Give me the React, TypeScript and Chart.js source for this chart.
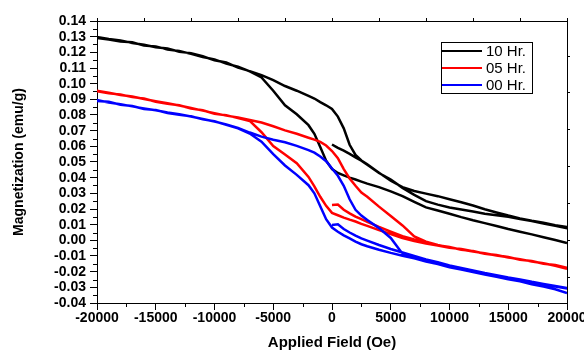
import React, { useEffect, useRef } from "react";
import { Chart, registerables } from "chart.js";

Chart.register(...registerables);

// ---------- data ----------
const SERIES_LABELS = ["10 Hr.", "05 Hr.", "00 Hr."];
const SERIES_COLORS = ["#000000", "#ff0000", "#0000ff"];

// field values (Oe) for the two hysteresis branches
const H_BRANCH = [
  -20000, -19000, -18000, -17000, -16000, -15000, -14000, -13000, -12000, -11000,
  -10000, -9000, -8000, -7000, -6000, -5000, -4000, -3000, -2000, -1500,
  -1000, -500, 0, 500, 1000, 1500, 2000, 2500, 3000, 4000,
  5000, 6000, 7000, 8000, 9000, 10000, 11000, 12000, 13000, 14000,
  15000, 16000, 17000, 18000, 19000, 20000,
];
// field values (Oe) for the initial (virgin) curve
const H_VIRGIN = [
  0, 500, 1000, 1500, 2000, 2500, 3000, 4000, 5000, 6000, 7000, 8000,
  9000, 10000, 11000, 12000, 13000, 14000, 15000, 16000, 17000, 18000, 19000, 20000,
];

// 10 Hr. (emu/g)
const BLACK_UPPER = [
  0.1298, 0.1285, 0.1275, 0.1259, 0.1249, 0.1233, 0.1225, 0.1204, 0.1195, 0.1175,
  0.1149, 0.1135, 0.1102, 0.1080, 0.1055, 0.1022, 0.0985, 0.0955, 0.0922, 0.0905,
  0.0882, 0.0862, 0.0838, 0.0790, 0.0715, 0.0610, 0.0545, 0.0510, 0.0485, 0.0432,
  0.0380, 0.0340, 0.0315, 0.0298, 0.0282, 0.0262, 0.0243, 0.0222, 0.0198, 0.0178,
  0.0158, 0.0140, 0.0125, 0.0112, 0.0097, 0.0085,
];
const BLACK_LOWER = [
  0.1292, 0.1282, 0.1269, 0.1264, 0.1243, 0.1238, 0.1218, 0.1209, 0.1190, 0.1170,
  0.1155, 0.1128, 0.1108, 0.1078, 0.1040, 0.0955, 0.0862, 0.0805, 0.0735, 0.0680,
  0.0595, 0.0508, 0.0455, 0.0430, 0.0415, 0.0400, 0.0388, 0.0375, 0.0362, 0.0340,
  0.0312, 0.0282, 0.0245, 0.0210, 0.0190, 0.0170, 0.0148, 0.0128, 0.0110, 0.0092,
  0.0072, 0.0055, 0.0038, 0.0020, 0.0002, -0.0017,
];
const BLACK_VIRGIN = [
  0.0612, 0.0590, 0.0572, 0.0552, 0.0530, 0.0508, 0.0482, 0.0430, 0.0388, 0.0335,
  0.0290, 0.0250, 0.0228, 0.0210, 0.0197, 0.0184, 0.0170, 0.0160, 0.0150, 0.0136,
  0.0123, 0.0108, 0.0093, 0.0078,
];

// 05 Hr. (emu/g)
const RED_UPPER = [
  0.0955, 0.0942, 0.0928, 0.0918, 0.0902, 0.0888, 0.0875, 0.0860, 0.0845, 0.0828,
  0.0812, 0.0796, 0.0784, 0.0768, 0.0752, 0.0728, 0.0702, 0.0680, 0.0655, 0.0643,
  0.0628, 0.0605, 0.0570, 0.0525, 0.0455, 0.0395, 0.0348, 0.0305, 0.0278, 0.0215,
  0.0155, 0.0095, 0.0025, -0.0008, -0.0030, -0.0045, -0.0058, -0.0072, -0.0083, -0.0097,
  -0.0108, -0.0122, -0.0133, -0.0148, -0.0160, -0.0178,
];
const RED_LOWER = [
  0.0952, 0.0938, 0.0931, 0.0914, 0.0905, 0.0885, 0.0872, 0.0862, 0.0842, 0.0830,
  0.0808, 0.0799, 0.0780, 0.0762, 0.0690, 0.0602, 0.0548, 0.0492, 0.0405, 0.0345,
  0.0278, 0.0220, 0.0175, 0.0160, 0.0145, 0.0132, 0.0120, 0.0105, 0.0092, 0.0065,
  0.0040, 0.0015, -0.0005, -0.0020, -0.0033, -0.0048, -0.0056, -0.0070, -0.0086, -0.0094,
  -0.0110, -0.0120, -0.0135, -0.0146, -0.0162, -0.0181,
];
const RED_VIRGIN = [
  0.0225, 0.0228, 0.0195, 0.0172, 0.0152, 0.0135, 0.0118, 0.0086, 0.0056, 0.0027,
  0.0005, -0.0015, -0.0032, -0.0043, -0.0060, -0.0068, -0.0085, -0.0095, -0.0106, -0.0124,
  -0.0132, -0.0150, -0.0158, -0.0176,
];

// 00 Hr. (emu/g)
const BLUE_UPPER = [
  0.0895, 0.0880, 0.0868, 0.0855, 0.0842, 0.0830, 0.0816, 0.0805, 0.0790, 0.0775,
  0.0758, 0.0740, 0.0718, 0.0688, 0.0662, 0.0642, 0.0626, 0.0603, 0.0576, 0.0560,
  0.0535, 0.0505, 0.0458, 0.0412, 0.0348, 0.0262, 0.0195, 0.0158, 0.0130, 0.0078,
  0.0015, -0.0085, -0.0105, -0.0128, -0.0148, -0.0165, -0.0180, -0.0197, -0.0212, -0.0228,
  -0.0240, -0.0255, -0.0268, -0.0280, -0.0295, -0.0308,
];
const BLUE_LOWER = [
  0.0890, 0.0884, 0.0865, 0.0858, 0.0839, 0.0832, 0.0813, 0.0802, 0.0792, 0.0772,
  0.0760, 0.0737, 0.0715, 0.0682, 0.0630, 0.0550, 0.0478, 0.0418, 0.0352, 0.0300,
  0.0218, 0.0135, 0.0082, 0.0055, 0.0032, 0.0012, -0.0008, -0.0025, -0.0038, -0.0060,
  -0.0080, -0.0098, -0.0115, -0.0135, -0.0152, -0.0172, -0.0186, -0.0203, -0.0218, -0.0233,
  -0.0248, -0.0262, -0.0280, -0.0295, -0.0312, -0.0336,
];
const BLUE_VIRGIN = [
  0.0098, 0.0102, 0.0072, 0.0050, 0.0030, 0.0012, -0.0002, -0.0030, -0.0055, -0.0078,
  -0.0100, -0.0122, -0.0140, -0.0160, -0.0176, -0.0192, -0.0208, -0.0222, -0.0237, -0.0250,
  -0.0265, -0.0278, -0.0292, -0.0305,
];

const X_MIN = -20000;
const X_MAX = 20000;
const X_STEP = 5000;
const X_TOP_STEP = 4000;
const Y_MIN = -0.04;
const Y_MAX = 0.14;
const Y_STEP = 0.01;

const X_TITLE = "Applied Field (Oe)";
const Y_TITLE = "Magnetization (emu/g)";

// ---------- helpers ----------
function buildLoop(virgin: number[], upper: number[], lower: number[]) {
  const pts: { x: number; y: number }[] = [];
  H_VIRGIN.forEach((h, i) => pts.push({ x: h, y: virgin[i] }));
  for (let i = H_BRANCH.length - 1; i >= 0; i--) pts.push({ x: H_BRANCH[i], y: upper[i] });
  H_BRANCH.forEach((h, i) => pts.push({ x: h, y: lower[i] }));
  return pts;
}

const FONT = "'Liberation Sans', Arial, Helvetica, sans-serif";

const minorTicks = {
  id: "minorTicks",
  afterDraw(chart: any) {
    const ctx = chart.ctx;
    const xs = chart.scales.x;
    const ys = chart.scales.y;
    ctx.save();
    ctx.strokeStyle = "#000";
    ctx.lineWidth = 1;
    const xt = xs.ticks.map((t: any) => t.value);
    for (let i = 0; i < xt.length - 1; i++) {
      const px = Math.round(xs.getPixelForValue((xt[i] + xt[i + 1]) / 2)) + 0.5;
      ctx.beginPath();
      ctx.moveTo(px, xs.top);
      ctx.lineTo(px, xs.top + 4);
      ctx.stroke();
    }
    const yt = ys.ticks.map((t: any) => t.value);
    for (let i = 0; i < yt.length - 1; i++) {
      const py = Math.round(ys.getPixelForValue((yt[i] + yt[i + 1]) / 2)) + 0.5;
      ctx.beginPath();
      ctx.moveTo(ys.right - 4, py);
      ctx.lineTo(ys.right, py);
      ctx.stroke();
    }
    ctx.restore();
  },
};

const boxLegend = {
  id: "boxLegend",
  afterDraw(chart: any) {
    const ctx = chart.ctx;
    const area = chart.chartArea;
    const left = area.right - 126;
    const top = area.top + 21;
    const w = 91;
    const rowH = 17;
    const h = rowH * chart.data.datasets.length;
    ctx.save();
    ctx.fillStyle = "#fff";
    ctx.fillRect(left, top, w, h);
    ctx.strokeStyle = "#000";
    ctx.lineWidth = 1;
    ctx.strokeRect(left + 0.5, top + 0.5, w, h);
    ctx.font = `15px ${FONT}`;
    ctx.textBaseline = "middle";
    ctx.textAlign = "left";
    chart.data.datasets.forEach((ds: any, i: number) => {
      const cy = top + 9 + i * rowH;
      ctx.strokeStyle = ds.borderColor;
      ctx.lineWidth = 2;
      ctx.beginPath();
      ctx.moveTo(left + 1, cy);
      ctx.lineTo(left + 41, cy);
      ctx.stroke();
      ctx.fillStyle = "#000";
      ctx.fillText(ds.label, left + 45, cy + 0.5);
    });
    ctx.restore();
  },
};

export default function App() {
  const ref = useRef<HTMLCanvasElement | null>(null);

  useEffect(() => {
    if (!ref.current) return;
    const loops = [
      buildLoop(BLACK_VIRGIN, BLACK_UPPER, BLACK_LOWER),
      buildLoop(RED_VIRGIN, RED_UPPER, RED_LOWER),
      buildLoop(BLUE_VIRGIN, BLUE_UPPER, BLUE_LOWER),
    ];
    const tickFont = { family: FONT, size: 14, weight: "bold" as const };
    const chart = new Chart(ref.current, {
      type: "scatter",
      data: {
        datasets: loops.map((pts, i) => ({
          label: SERIES_LABELS[i],
          data: pts,
          showLine: true,
          borderColor: SERIES_COLORS[i],
          backgroundColor: SERIES_COLORS[i],
          borderWidth: 2.5,
          pointRadius: 0,
          tension: 0,
          fill: false,
          order: 2 - i,
        })),
      },
      options: {
        animation: false,
        responsive: false,
        events: [],
        layout: { padding: { left: 0, top: 18, right: 13, bottom: 0 } },
        plugins: {
          legend: { display: false },
          tooltip: { enabled: false },
        },
        scales: {
          x: {
            type: "linear",
            position: "bottom",
            min: X_MIN,
            max: X_MAX,
            afterFit: (s: any) => {
              s.height = 49;
              s.paddingLeft = 0;
              s.paddingRight = 0;
            },
            ticks: {
              stepSize: X_STEP,
              autoSkip: false,
              maxRotation: 0,
              padding: 0,
              color: "#000",
              font: tickFont,
              callback: (v: any) => String(Math.round(Number(v))),
            },
            grid: {
              drawOnChartArea: false,
              drawTicks: true,
              tickLength: 7,
              color: "#000",
              lineWidth: 1,
            },
            border: { display: true, color: "#000", width: 1 },
            title: {
              display: true,
              text: X_TITLE,
              color: "#000",
              font: { family: FONT, size: 15, weight: "bold" },
              padding: { top: 0, bottom: 0 },
            },
          },
          xTop: {
            type: "linear",
            position: "top",
            min: X_MIN,
            max: X_MAX,
            afterFit: (s: any) => {
              s.height = 3;
              s.paddingLeft = 0;
              s.paddingRight = 0;
            },
            ticks: { display: false, stepSize: X_TOP_STEP, autoSkip: false },
            grid: { drawOnChartArea: false, tickLength: 3, color: "#000", lineWidth: 1 },
            border: { display: true, color: "#000", width: 1 },
          },
          y: {
            type: "linear",
            position: "left",
            min: Y_MIN,
            max: Y_MAX,
            afterFit: (s: any) => {
              s.width = 97;
              s.paddingTop = 0;
              s.paddingBottom = 0;
            },
            ticks: {
              stepSize: Y_STEP,
              autoSkip: false,
              padding: 4,
              color: "#000",
              font: tickFont,
              callback: (v: any) => (Math.abs(Number(v)) < 1e-9 ? "0.00" : Number(v).toFixed(2)),
            },
            grid: {
              drawOnChartArea: false,
              drawTicks: true,
              tickLength: 7,
              color: "#000",
              lineWidth: 1,
            },
            border: { display: true, color: "#000", width: 1 },
            title: {
              display: true,
              text: Y_TITLE,
              color: "#000",
              font: { family: FONT, size: 14, weight: "bold" },
              padding: { top: 11, bottom: 0 },
            },
          },
          yRight: {
            type: "linear",
            position: "right",
            min: -0.676,
            max: 6.946,
            afterFit: (s: any) => {
              s.width = 4;
              s.paddingTop = 0;
              s.paddingBottom = 0;
            },
            ticks: { display: false, stepSize: 1, includeBounds: false, autoSkip: false },
            grid: { drawOnChartArea: false, tickLength: 3, color: "#000", lineWidth: 1 },
            border: { display: true, color: "#000", width: 1 },
          },
        },
      },
      plugins: [minorTicks, boxLegend],
    } as any);
    return () => chart.destroy();
  }, []);

  return (
    <div style={{ position: "fixed", left: 0, top: 0, width: 584, height: 352, background: "#fff" }}>
      <canvas ref={ref} width={584} height={352} style={{ display: "block" }} />
    </div>
  );
}
